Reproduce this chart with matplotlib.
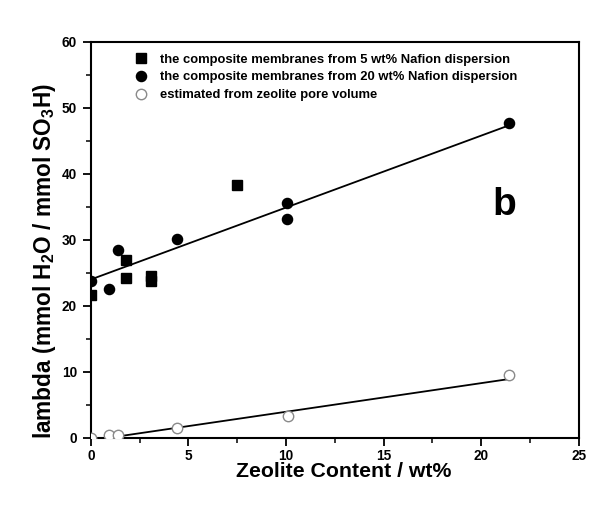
import numpy as np
import matplotlib
matplotlib.use('Agg')
import matplotlib.pyplot as plt
from matplotlib.ticker import MultipleLocator

plt.rcParams['font.family'] = ['Liberation Sans', 'DejaVu Sans']
plt.rcParams['font.weight'] = 'bold'
plt.rcParams['mathtext.fontset'] = 'custom'
plt.rcParams['mathtext.rm'] = 'Liberation Sans:bold'
plt.rcParams['mathtext.it'] = 'Liberation Sans:bold'
plt.rcParams['mathtext.bf'] = 'Liberation Sans:bold'

# membranes cast from 5 wt% Nafion dispersion
x_5wt = [0.0, 1.8, 1.8, 3.1, 3.1, 7.5]
lam_5wt = [21.7, 26.9, 24.2, 24.5, 23.8, 38.3]

# membranes cast from 20 wt% Nafion dispersion
x_20wt = [0.0, 0.94, 1.37, 4.4, 10.07, 10.07, 21.4]
lam_20wt = [23.7, 22.5, 28.4, 30.1, 35.6, 33.1, 47.7]

# water uptake estimated from zeolite pore volume
x_est = [0.0, 0.94, 1.37, 4.4, 10.1, 21.4]
lam_est = [0.0, 0.4, 0.5, 1.5, 3.3, 9.5]

# linear fits (intercept, slope) and fitted range
fit_memb = (24.0, 1.09)
fit_est = (-0.39, 0.434)
fit_range = [0.0, 21.4]

labels = ['the composite membranes from 5 wt% Nafion dispersion',
          'the composite membranes from 20 wt% Nafion dispersion',
          'estimated from zeolite pore volume']

fig = plt.figure(figsize=(5.9, 5.05), dpi=100)
ax = fig.add_axes([0.154, 0.133, 0.827, 0.784])

ax.plot(x_5wt, lam_5wt, 's', color='black', markersize=6.5, label=labels[0], zorder=3)
ax.plot(x_20wt, lam_20wt, 'o', color='black', markersize=7.3, label=labels[1], zorder=3)
ax.plot(x_est, lam_est, 'o', markerfacecolor='white', markeredgecolor='#8a8a8a',
        markeredgewidth=1.0, markersize=7.5, label=labels[2], zorder=3)

xf = np.array(fit_range)
ax.plot(xf, fit_memb[0] + fit_memb[1]*xf, color='black', linewidth=1.3, zorder=2)
ax.plot(xf, fit_est[0] + fit_est[1]*xf, color='black', linewidth=1.3, zorder=2)

ax.set_xlim(0, 25)
ax.set_ylim(0, 60)
ax.xaxis.set_major_locator(MultipleLocator(5))
ax.xaxis.set_minor_locator(MultipleLocator(2.5))
ax.yaxis.set_major_locator(MultipleLocator(10))
ax.yaxis.set_minor_locator(MultipleLocator(5))
ax.tick_params(which='major', direction='out', length=6, width=1.3, labelsize=9.8, pad=4)
ax.tick_params(axis='x', which='major', pad=2)
ax.tick_params(which='minor', direction='out', length=3.5, width=1.1)
for s in ax.spines.values():
    s.set_linewidth(1.5)

ax.set_xlabel('Zeolite Content / wt%', fontsize=15.3, fontweight='bold')
ax.xaxis.set_label_coords(0.518, -0.062)
ax.set_ylabel('lambda (mmol H$_2$O / mmol SO$_3$H)', fontsize=16.3, fontweight='bold')
ax.yaxis.set_label_coords(-0.067, 0.447)

ax.text(21.2, 35.3, 'b', fontsize=28, fontweight='bold', ha='center', va='center')

ax.legend(loc='upper left', bbox_to_anchor=(0.07, 0.99), frameon=False, fontsize=9.4,
          handletextpad=0.85, labelspacing=0.42, borderaxespad=0.2, handlelength=1.2)

fig.savefig('out.png', dpi=100)
